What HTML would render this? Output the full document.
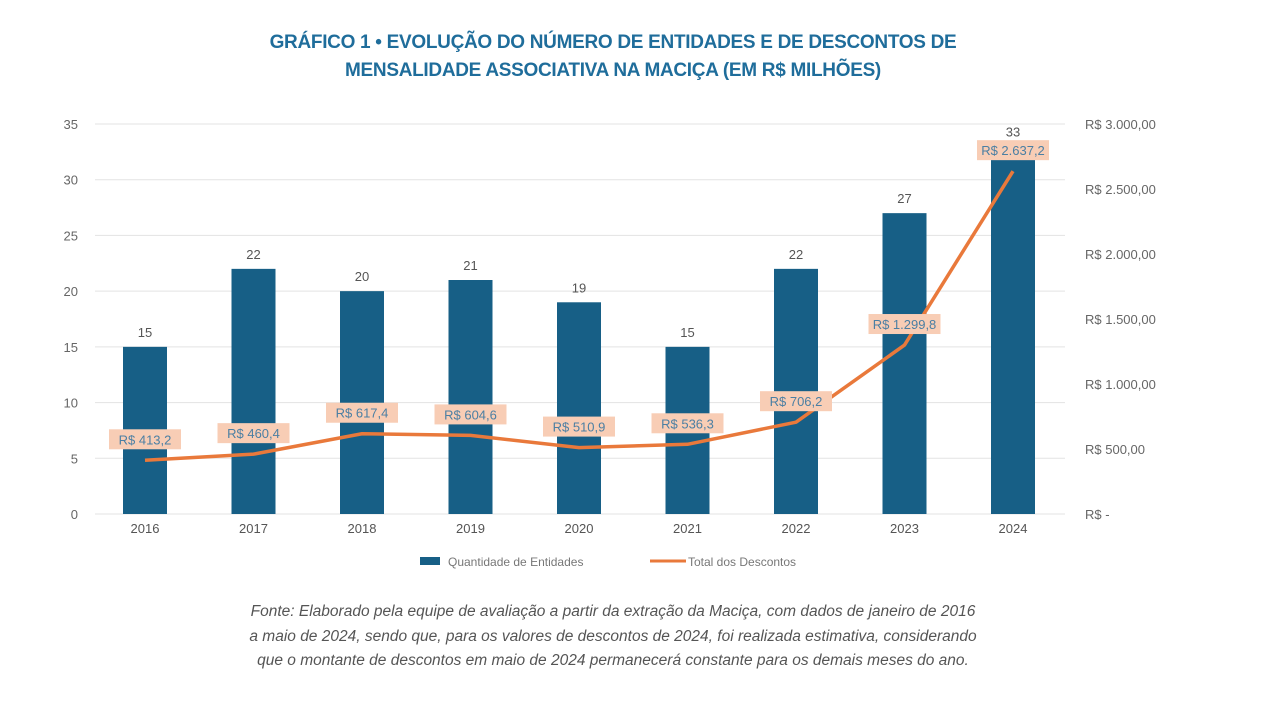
<!DOCTYPE html>
<html><head><meta charset="utf-8"><style>
body{margin:0;background:#fff;width:1280px;height:720px;overflow:hidden;font-family:"Liberation Sans",sans-serif}
.t{position:absolute;left:0;width:1226px;text-align:center;color:#1f6d9b;font-weight:bold;font-size:19px;letter-spacing:-0.3px}
.f{position:absolute;left:0;width:1226px;text-align:center;color:#555;font-style:italic;font-size:15.5px;line-height:24.5px;top:600px}
</style></head><body>
<div class="t" style="top:32px">GRÁFICO 1 • EVOLUÇÃO DO NÚMERO DE ENTIDADES E DE DESCONTOS DE</div>
<div class="t" style="top:60px">MENSALIDADE ASSOCIATIVA NA MACIÇA (EM R$ MILHÕES)</div>
<svg id="c" width="1280" height="720" style="position:absolute;left:0;top:0"></svg>
<div class="f">Fonte: Elaborado pela equipe de avaliação a partir da extração da Maciça, com dados de janeiro de 2016<br>a maio de 2024, sendo que, para os valores de descontos de 2024, foi realizada estimativa, considerando<br>que o montante de descontos em maio de 2024 permanecerá constante para os demais meses do ano.</div>
<script>
const years=["2016","2017","2018","2019","2020","2021","2022","2023","2024"];
const entities=[15,22,20,21,19,15,22,27,33];
const discounts=[413.2,460.4,617.4,604.6,510.9,536.3,706.2,1299.8,2637.2];
const discountLabels=["R$ 413,2","R$ 460,4","R$ 617,4","R$ 604,6","R$ 510,9","R$ 536,3","R$ 706,2","R$ 1.299,8","R$ 2.637,2"];
const leftTicks=[0,5,10,15,20,25,30,35];
const rightTicks=[0,500,1000,1500,2000,2500,3000];
const rightTickLabels=["R$ -","R$ 500,00","R$ 1.000,00","R$ 1.500,00","R$ 2.000,00","R$ 2.500,00","R$ 3.000,00"];
const svg=document.getElementById('c');const NS='http://www.w3.org/2000/svg';
const y0=514,yTop=124;
const yL=v=>y0-(v/35)*(y0-yTop);
const yR=v=>y0-(v/3000)*(y0-yTop);
const x=i=>145+i*108.5;
function el(t,a,txt){const e=document.createElementNS(NS,t);for(const k in a)e.setAttribute(k,a[k]);if(txt!=null)e.textContent=txt;svg.appendChild(e);return e;}
leftTicks.forEach(v=>{
 const g=el('line',{x1:95,x2:1065,y1:yL(v),y2:yL(v),stroke:'#e3e3e3','stroke-width':1});
 
 const t=el('text',{x:78,y:yL(v)+5,'text-anchor':'end','font-size':13,fill:'#666'},v);
 
});
rightTicks.forEach((v,i)=>{
 const t=el('text',{x:1085,y:yR(v)+5,'font-size':13,fill:'#666'},rightTickLabels[i]);
 
});
years.forEach((yr,i)=>{
 const b=el('rect',{x:x(i)-22,y:yL(entities[i]),width:44,height:y0-yL(entities[i]),fill:'#175f86'});
 
 const l=el('text',{x:x(i),y:yL(entities[i])-10,'text-anchor':'middle','font-size':13,fill:'#555'},entities[i]);
 
 const xl=el('text',{x:x(i),y:533,'text-anchor':'middle','font-size':13,fill:'#555'},yr);
 
});
const pts=discounts.map((v,i)=>x(i)+','+yR(v)).join(' ');
const pl=el('polyline',{points:pts,fill:'none',stroke:'#e9793b','stroke-width':3.5,'stroke-linejoin':'round'});

discounts.forEach((v,i)=>{
 const cy=yR(v)-21;
 const r=el('rect',{x:x(i)-36,y:cy-10,width:72,height:20,fill:'#f8cdb5'});
 
 const t=el('text',{x:x(i),y:cy+5,'text-anchor':'middle','font-size':13,fill:'#4b7fa3'},discountLabels[i]);
 
});
const lb=el('rect',{x:420,y:557,width:20,height:8,fill:'#175f86'});

const lt=el('text',{x:448,y:566,'font-size':12,fill:'#777'},'Quantidade de Entidades');

const ll=el('line',{x1:650,x2:686,y1:561,y2:561,stroke:'#e9793b','stroke-width':3});

const lt2=el('text',{x:688,y:566,'font-size':12,fill:'#777'},'Total dos Descontos');

</script>
</body></html>
